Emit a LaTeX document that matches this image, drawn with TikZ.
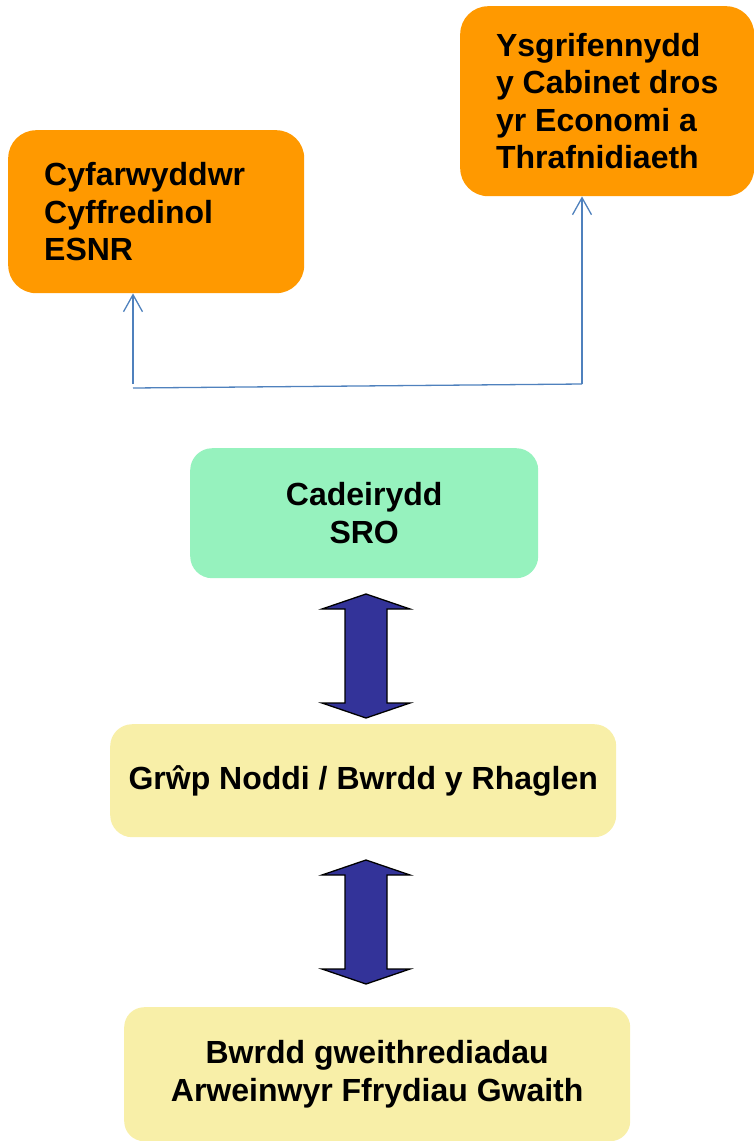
\documentclass[tikz,border=0pt]{standalone}
\usepackage{fontspec}
\setmainfont{Liberation Sans}
\usepackage{xcolor}
\usetikzlibrary{arrows.meta, positioning, calc}
\definecolor{RoleOrange}{RGB}{255, 153, 0}
\definecolor{ChairGreen}{RGB}{150, 242, 190}
\definecolor{BoardYellow}{RGB}{248, 239, 168}
\definecolor{LinkBlue}{RGB}{79, 129, 189}
\definecolor{FlowNavy}{RGB}{51, 51, 153}

\tikzset{
    rolebox/.style={rectangle, rounded corners=28pt, fill=RoleOrange, align=left,
        font=\fontsize{32}{37.5}\selectfont\bfseries, anchor=north west},
    groupbox/.style={rectangle, rounded corners=22pt, align=center,
        font=\fontsize{32}{37.5}\selectfont\bfseries, anchor=north west},
    link/.style={draw=LinkBlue, line width=1.3pt},
    flowarrow/.style={draw=black, line width=1.3pt, fill=FlowNavy, line join=miter}
}

\newcommand{\twoway}[2]{% centre x, top y
    \draw[flowarrow] (#1,#2) -- ++(44,15) -- ++(-23,0) -- ++(0,94) -- ++(23,0)
        -- ++(-44,15) -- ++(-44,-15) -- ++(23,0) -- ++(0,-94) -- ++(-23,0) -- cycle;
}

\begin{document}
\begin{tikzpicture}[x=1pt, y=-1pt]
            \useasboundingbox (0,0) rectangle (753,1141);

            % Top: reporting lines
            \node[rolebox, minimum width=296pt, minimum height=163pt, text width=224pt, inner xsep=36pt]
                (esnr) at (8,130) {Cyfarwyddwr\\Cyffredinol\\ESNR};
            \node[rolebox, minimum width=294pt, minimum height=190pt, inner xsep=35pt]
                (cabinet) at (460,6) {Ysgrifennydd\\y Cabinet dros\\yr Economi a\\Thrafnidiaeth};

            \coordinate (split) at (133,388);
            \coordinate (corner) at (582,384);
            \draw[link, -{Straight Barb[length=17pt, width=19pt]}] (split |- 0,384) -- (split |- esnr.south);
            \draw[link] (split) -- (corner);
            \draw[link, -{Straight Barb[length=17pt, width=19pt]}] (corner) -- (corner |- cabinet.south);

            % Programme structure
            \node[groupbox, fill=ChairGreen, minimum width=348pt, minimum height=130pt]
                (chair) at (190,448) {Cadeirydd\\SRO};
            \node[groupbox, fill=BoardYellow, minimum width=506pt, minimum height=113pt]
                (sponsor) at (110,724) {Grŵp Noddi / Bwrdd y Rhaglen};
            \node[groupbox, fill=BoardYellow, minimum width=506pt, minimum height=134pt, rounded corners=20pt]
                (workstreams) at (124,1007) {Bwrdd gweithrediadau\\Arweinwyr Ffrydiau Gwaith};

            \twoway{366}{594}
            \twoway{366}{860}
        \end{tikzpicture}
\end{document}
